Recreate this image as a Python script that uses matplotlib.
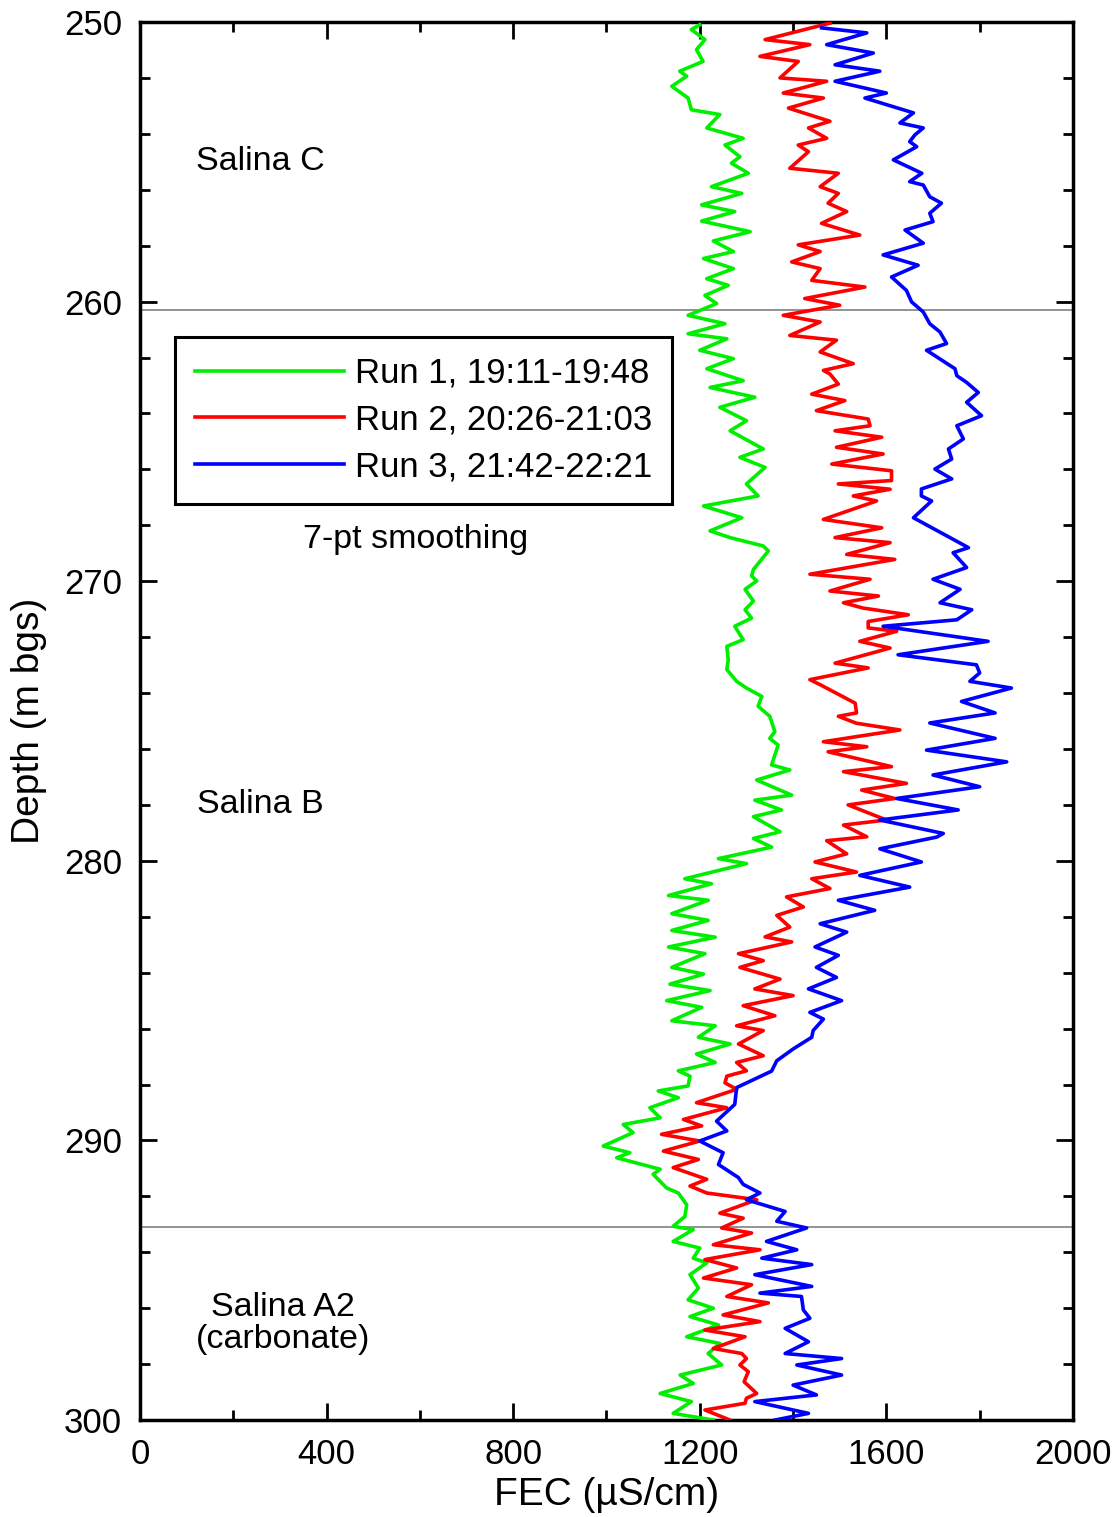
import matplotlib
matplotlib.use("Agg")
import matplotlib.pyplot as plt
from matplotlib.ticker import MultipleLocator

plt.rcParams['font.family'] = ['Liberation Sans', 'DejaVu Sans']

# Run 1 (green): depth (m bgs) and FEC (uS/cm)
run1_depth = [250.10, 250.27, 250.63, 250.99, 251.41, 251.76, 251.94, 252.30, 252.72, 253.14, 253.31, 253.79,
              254.16, 254.40, 254.82, 255.05, 255.41, 255.89, 256.13, 256.54, 256.78, 257.12, 257.50, 257.83,
              258.21, 258.46, 258.82, 259.18, 259.42, 259.78, 260.07, 260.49, 260.79, 261.15, 261.33, 261.74,
              262.04, 262.40, 262.83, 263.07, 263.42, 263.78, 264.26, 264.62, 265.27, 265.57, 265.93, 266.52,
              266.95, 267.31, 267.73, 268.20, 268.44, 268.74, 268.92, 269.58, 269.81, 269.99, 270.29, 270.71,
              271.02, 271.32, 271.61, 272.09, 272.33, 272.81, 273.16, 273.58, 273.82, 274.12, 274.47, 274.83,
              275.38, 275.62, 275.86, 276.57, 276.75, 277.11, 277.65, 277.83, 278.18, 278.42, 278.96, 279.20,
              279.51, 279.92, 280.10, 280.64, 280.82, 281.24, 281.41, 281.89, 282.13, 282.49, 282.73, 283.08,
              283.32, 283.81, 284.05, 284.41, 284.64, 285.00, 285.24, 285.72, 285.90, 286.31, 286.55, 286.91,
              287.21, 287.51, 287.70, 288.05, 288.23, 288.47, 288.83, 289.19, 289.43, 289.72, 290.20, 290.44,
              290.62, 291.03, 291.21, 291.70, 291.88, 292.30, 292.72, 293.07, 293.19, 293.61, 293.85, 294.21,
              294.38, 294.80, 295.28, 295.70, 296.00, 296.30, 296.60, 297.02, 297.26, 297.62, 298.03, 298.39,
              298.69, 299.05, 299.34, 299.76, 300.00]
run1_fec = [1200, 1182, 1211, 1193, 1207, 1157, 1172, 1140, 1175, 1182, 1243, 1215,
            1293, 1254, 1286, 1268, 1304, 1225, 1290, 1204, 1275, 1204, 1308, 1229,
            1272, 1208, 1272, 1215, 1261, 1211, 1236, 1175, 1254, 1175, 1258, 1200,
            1272, 1215, 1293, 1222, 1318, 1243, 1300, 1265, 1336, 1286, 1340, 1300,
            1325, 1208, 1290, 1222, 1265, 1336, 1347, 1315, 1311, 1322, 1297, 1315,
            1297, 1311, 1275, 1293, 1258, 1261, 1258, 1279, 1300, 1333, 1325, 1350,
            1361, 1350, 1368, 1354, 1393, 1322, 1397, 1318, 1375, 1315, 1372, 1315,
            1354, 1240, 1300, 1168, 1225, 1133, 1218, 1140, 1218, 1140, 1233, 1133,
            1211, 1140, 1208, 1136, 1222, 1129, 1204, 1140, 1233, 1197, 1265, 1193,
            1233, 1154, 1179, 1175, 1111, 1154, 1093, 1115, 1036, 1057, 993, 1050,
            1022, 1115, 1100, 1129, 1154, 1172, 1168, 1143, 1186, 1143, 1200, 1186,
            1215, 1179, 1197, 1175, 1229, 1179, 1240, 1172, 1243, 1218, 1247, 1158,
            1186, 1115, 1182, 1143, 1229]

# Run 2 (red)
run2_depth = [250.04, 250.63, 250.81, 251.23, 251.41, 252.00, 252.12, 252.54, 252.72, 253.08, 253.55, 253.79,
              254.16, 254.40, 254.64, 255.23, 255.41, 255.89, 256.13, 256.48, 256.78, 257.20, 257.62, 257.97,
              258.21, 258.58, 258.82, 259.24, 259.48, 259.89, 260.13, 260.49, 260.73, 261.21, 261.38, 261.80,
              262.22, 262.46, 262.59, 262.95, 263.31, 263.54, 263.90, 264.20, 264.44, 264.62, 264.85, 265.21,
              265.45, 265.81, 266.05, 266.40, 266.52, 266.71, 266.95, 267.13, 267.79, 268.09, 268.44, 268.62,
              269.04, 269.22, 269.75, 269.93, 270.35, 270.53, 270.77, 270.96, 271.20, 271.44, 271.67, 271.79,
              272.15, 272.39, 272.93, 273.10, 273.52, 273.70, 274.36, 274.71, 274.83, 275.08, 275.32, 275.74,
              275.92, 276.10, 276.63, 276.81, 277.23, 277.47, 277.77, 278.00, 278.54, 278.72, 279.14, 279.28,
              279.75, 280.04, 280.40, 280.64, 280.99, 281.29, 281.65, 281.95, 282.37, 282.72, 282.90, 283.32,
              283.57, 283.81, 284.23, 284.58, 284.82, 285.18, 285.54, 285.90, 286.07, 286.55, 286.97, 287.21,
              287.51, 287.70, 287.94, 288.17, 288.65, 288.83, 289.25, 289.48, 289.78, 290.02, 290.38, 290.68,
              290.97, 291.39, 291.63, 291.88, 292.12, 292.60, 292.78, 293.13, 293.31, 293.73, 293.91, 294.26,
              294.56, 294.92, 295.16, 295.58, 295.81, 296.24, 296.48, 296.78, 297.02, 297.44, 297.62, 297.80,
              298.03, 298.27, 298.63, 299.05, 299.22, 299.40, 299.64, 300.00]
run2_fec = [1479, 1340, 1436, 1329, 1411, 1372, 1472, 1379, 1465, 1390, 1479, 1433,
            1472, 1411, 1433, 1393, 1497, 1458, 1497, 1475, 1515, 1461, 1543, 1411,
            1458, 1397, 1458, 1440, 1554, 1425, 1500, 1379, 1458, 1393, 1493, 1458,
            1529, 1465, 1479, 1497, 1440, 1511, 1450, 1561, 1565, 1490, 1590, 1493,
            1593, 1483, 1611, 1611, 1497, 1608, 1529, 1579, 1465, 1590, 1490, 1608,
            1515, 1618, 1436, 1565, 1479, 1583, 1508, 1550, 1647, 1561, 1561, 1622,
            1543, 1608, 1490, 1561, 1436, 1458, 1533, 1536, 1497, 1536, 1629, 1465,
            1558, 1475, 1611, 1508, 1643, 1547, 1618, 1518, 1600, 1508, 1558, 1472,
            1515, 1447, 1536, 1440, 1479, 1386, 1422, 1365, 1393, 1340, 1397, 1283,
            1336, 1286, 1372, 1318, 1400, 1293, 1361, 1279, 1336, 1283, 1336, 1279,
            1300, 1258, 1254, 1279, 1193, 1258, 1165, 1204, 1118, 1200, 1122, 1197,
            1143, 1215, 1179, 1215, 1322, 1243, 1293, 1247, 1311, 1229, 1329, 1211,
            1279, 1208, 1311, 1258, 1347, 1250, 1329, 1211, 1297, 1229, 1290, 1300,
            1286, 1304, 1295, 1322, 1300, 1297, 1211, 1265]

# Run 3 (blue)
run3_depth = [250.21, 250.39, 250.81, 251.11, 251.53, 251.76, 252.12, 252.54, 252.72, 253.25, 253.61, 253.79,
              254.04, 254.28, 254.46, 254.93, 255.41, 255.71, 255.83, 256.25, 256.48, 256.84, 257.14, 257.44,
              257.91, 258.33, 258.70, 259.12, 259.60, 260.01, 260.37, 260.79, 261.09, 261.50, 261.74, 262.40,
              262.65, 262.89, 263.25, 263.60, 264.08, 264.44, 264.91, 265.27, 265.63, 265.99, 266.34, 266.70,
              266.95, 267.13, 267.73, 268.80, 268.98, 269.51, 269.93, 270.29, 270.77, 271.02, 271.38, 271.61,
              272.15, 272.63, 272.99, 273.28, 273.58, 273.82, 274.30, 274.71, 275.07, 275.62, 276.04, 276.46,
              276.93, 277.35, 277.77, 278.18, 278.54, 279.02, 279.15, 279.57, 280.04, 280.52, 280.94, 281.41,
              281.77, 282.25, 282.55, 283.08, 283.38, 283.81, 284.17, 284.58, 285.00, 285.42, 285.66, 286.07,
              286.31, 286.73, 287.15, 287.52, 288.11, 288.71, 289.31, 289.66, 290.02, 290.44, 290.86, 291.33,
              291.57, 291.88, 292.12, 292.54, 292.89, 293.13, 293.61, 293.91, 294.21, 294.44, 294.80, 295.22,
              295.46, 295.58, 296.06, 296.36, 296.72, 297.20, 297.62, 297.80, 298.03, 298.39, 298.75, 299.10,
              299.34, 299.76, 300.00]
run3_fec = [1461, 1558, 1472, 1572, 1490, 1586, 1490, 1600, 1554, 1658, 1629, 1679,
            1661, 1650, 1665, 1615, 1676, 1650, 1679, 1693, 1718, 1693, 1700, 1640,
            1679, 1593, 1668, 1611, 1643, 1654, 1679, 1693, 1715, 1729, 1686, 1747,
            1751, 1772, 1797, 1772, 1804, 1751, 1765, 1733, 1740, 1704, 1740, 1675,
            1675, 1697, 1658, 1776, 1743, 1772, 1700, 1758, 1715, 1783, 1751, 1593,
            1818, 1625, 1793, 1800, 1779, 1868, 1761, 1833, 1693, 1833, 1686, 1858,
            1700, 1800, 1622, 1754, 1586, 1722, 1708, 1586, 1675, 1543, 1650, 1497,
            1575, 1458, 1515, 1447, 1497, 1450, 1493, 1433, 1504, 1436, 1465, 1443,
            1440, 1400, 1365, 1354, 1279, 1275, 1236, 1258, 1200, 1250, 1240, 1283,
            1293, 1329, 1300, 1383, 1365, 1429, 1343, 1408, 1333, 1440, 1318, 1440,
            1329, 1418, 1422, 1436, 1383, 1433, 1383, 1504, 1408, 1504, 1400, 1450,
            1318, 1433, 1361]

run_labels = ['Run 1, 19:11-19:48', 'Run 2, 20:26-21:03', 'Run 3, 21:42-22:21']
run_colors = ['#00ee00', '#ff0000', '#0000ff']
boundaries = [260.3, 293.1]
unit_names = ['Salina C', 'Salina B', 'Salina A2\n(carbonate)']
unit_pos = [(259, 255.0), (259, 278.0), (306, 296.55)]

fig = plt.figure(figsize=(11.17, 15.17), dpi=100)
ax = fig.add_axes([0.1253, 0.0639, 0.8353, 0.9216])

for d, v, lab, c in zip([run1_depth, run2_depth, run3_depth],
                        [run1_fec, run2_fec, run3_fec], run_labels, run_colors):
    ax.plot(v, d, color=c, lw=2.6, label=lab, zorder=3)

for b in boundaries:
    ax.axhline(b, color='#808080', lw=1.2, zorder=1)

ax.set_xlim(0, 2000)
ax.set_ylim(300, 250)
ax.xaxis.set_major_locator(MultipleLocator(400))
ax.xaxis.set_minor_locator(MultipleLocator(200))
ax.yaxis.set_major_locator(MultipleLocator(10))
ax.yaxis.set_minor_locator(MultipleLocator(2))
ax.tick_params(which='both', direction='in', top=True, right=True, labelsize=25, width=2)
ax.tick_params(which='major', length=12, pad=13)
ax.tick_params(which='minor', length=7)
for s in ax.spines.values():
    s.set_linewidth(2.5)

ax.set_xlabel('FEC (µS/cm)', fontsize=28, labelpad=4)
ax.set_ylabel('Depth (m bgs)', fontsize=28, labelpad=12)

for name, (x, y) in zip(unit_names, unit_pos):
    ax.text(x, y, name, fontsize=24.5, ha='center', va='center', linespacing=1.05)
ax.text(590, 268.5, '7-pt smoothing', fontsize=24.5, ha='center', va='center')

leg = ax.legend(loc='upper left', bbox_to_anchor=(0.0375, 0.775), fontsize=25,
                handlelength=4.3, handletextpad=0.3, borderpad=0.58, labelspacing=0.4,
                borderaxespad=0, fancybox=False, framealpha=1, edgecolor='black')
leg.get_frame().set_linewidth(2.2)

fig.savefig('out.png', dpi=100)
